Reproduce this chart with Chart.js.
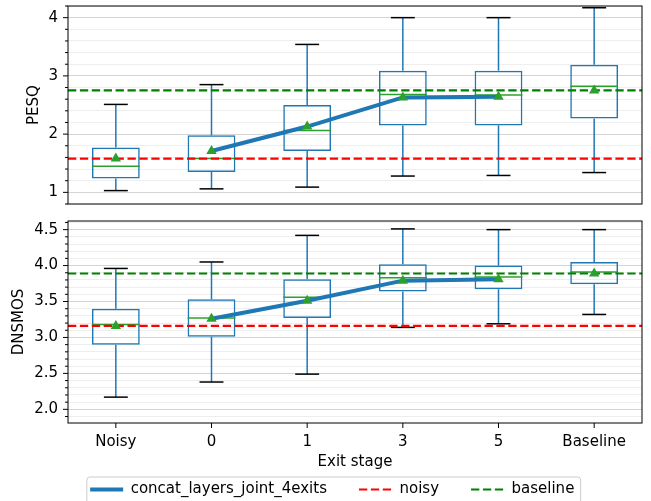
<!DOCTYPE html>
<html>
<head>
<meta charset="utf-8">
<script src="https://cdn.jsdelivr.net/npm/chart.js@4.4.1/dist/chart.umd.min.js"></script>
<style>
  html, body { margin: 0; padding: 0; background: #fff; }
  body { width: 651px; height: 501px; overflow: hidden; position: relative; }
  .panel { position: absolute; left: 0; }
</style>
</head>
<body>
<div class="panel" style="top:0"><canvas id="pesq-canvas" width="651" height="210"></canvas></div>
<div class="panel" style="top:210px"><canvas id="dnsmos-canvas" width="651" height="297"></canvas></div>
<script>
// 退出阶段
const stages = ['Noisy', '0', '1', '3', '5', 'Baseline'];

// PESQ 箱线图数据
const pesqLow    = [1.03, 1.06, 1.09, 1.28, 1.29, 1.34];
const pesqQ1     = [1.24, 1.35, 1.71, 2.15, 2.15, 2.27];
const pesqMedian = [1.45, 1.58, 2.06, 2.68, 2.67, 2.82];
const pesqQ3     = [1.77, 1.98, 2.50, 3.09, 3.09, 3.19];
const pesqHigh   = [2.51, 2.85, 3.54, 4.00, 4.00, 4.17];
const pesqMean   = [1.58, 1.71, 2.13, 2.63, 2.64, 2.75];
const pesqTickLabels = ['1', '2', '3', '4'];

// DNSMOS 箱线图数据
const dnsLow    = [2.17, 2.38, 2.49, 3.14, 3.19, 3.32];
const dnsQ1     = [2.90, 3.01, 3.27, 3.64, 3.67, 3.74];
const dnsMedian = [3.18, 3.27, 3.56, 3.83, 3.84, 3.91];
const dnsQ3     = [3.40, 3.53, 3.81, 4.02, 4.00, 4.05];
const dnsHigh   = [3.96, 4.05, 4.42, 4.51, 4.50, 4.50];
const dnsMean   = [3.16, 3.26, 3.51, 3.79, 3.81, 3.89];
const dnsTickLabels = ['2.0', '2.5', '3.0', '3.5', '4.0', '4.5'];

// 图例
const legendNames = ['concat_layers_joint_4exits', 'noisy', 'baseline'];

Chart.defaults.font.family = "'DejaVu Sans', sans-serif";
Chart.defaults.font.size = 15;
Chart.defaults.color = '#000';

const BLUE = '#1f77b4';
const GREEN = '#2ca02c';
const DASH = [8.3, 3.6];

function isMajor(labels, v) {
    return labels.some(l => Math.abs(parseFloat(l) - v) < 1e-6);
}

function seg(ctx, x1, y1, x2, y2) {
    ctx.beginPath();
    ctx.moveTo(x1, y1);
    ctx.lineTo(x2, y2);
    ctx.stroke();
}

// 须线、端帽、中位数和参考线（画在箱体之后、均值之前）
function makeBoxPlugin(s) {
    return {
        id: 'boxExtras',
        afterDatasetDraw(chart, args) {
            if (args.index !== 0) return;
            const { ctx, chartArea: a } = chart;
            const x = chart.scales.x, y = chart.scales.y;
            const band = x.getPixelForValue(1) - x.getPixelForValue(0);
            ctx.save();
            ctx.lineWidth = 1.5;
            s.low.forEach((lo, i) => {
                const cx = x.getPixelForValue(i);
                ctx.strokeStyle = BLUE;
                seg(ctx, cx, y.getPixelForValue(s.q1[i]), cx, y.getPixelForValue(lo));
                seg(ctx, cx, y.getPixelForValue(s.q3[i]), cx, y.getPixelForValue(s.high[i]));
                ctx.strokeStyle = '#000';
                seg(ctx, cx - band / 8, y.getPixelForValue(lo), cx + band / 8, y.getPixelForValue(lo));
                seg(ctx, cx - band / 8, y.getPixelForValue(s.high[i]), cx + band / 8, y.getPixelForValue(s.high[i]));
                ctx.strokeStyle = GREEN;
                seg(ctx, cx - band / 4, y.getPixelForValue(s.median[i]), cx + band / 4, y.getPixelForValue(s.median[i]));
            });
            ctx.lineWidth = 2.2;
            ctx.setLineDash(DASH);
            const noisyY = y.getPixelForValue(s.mean[0]);
            const baseY = y.getPixelForValue(s.mean[s.mean.length - 1]);
            ctx.strokeStyle = '#ff0000';
            seg(ctx, a.left, noisyY, a.right, noisyY);
            ctx.strokeStyle = '#008000';
            seg(ctx, a.left, baseY, a.right, baseY);
            ctx.restore();
        }
    };
}

// 边框、刻度线和图例边框
function makeFramePlugin(tickLabels, showX) {
    return {
        id: 'frame',
        afterDraw(chart) {
            const { ctx, chartArea: a } = chart;
            const x = chart.scales.x, y = chart.scales.y;
            ctx.save();
            ctx.strokeStyle = '#000';
            ctx.lineWidth = 1;
            y.ticks.forEach(t => {
                const py = y.getPixelForValue(t.value);
                const len = isMajor(tickLabels, t.value) ? 5 : 3;
                seg(ctx, a.left - len, py, a.left, py);
            });
            if (showX) {
                stages.forEach((s, i) => {
                    const px = x.getPixelForValue(i);
                    seg(ctx, px, a.bottom, px, a.bottom + 5);
                });
            }
            ctx.strokeRect(a.left, a.top, a.right - a.left, a.bottom - a.top);

            const lg = chart.legend;
            if (lg && lg.options.display && lg.legendHitBoxes.length) {
                const hb = lg.legendHitBoxes;
                const first = hb[0], last = hb[hb.length - 1];
                const cy = first.top + first.height / 2;
                ctx.strokeStyle = '#cccccc';
                ctx.beginPath();
                ctx.roundRect(first.left - 3.3, cy - 12.5, last.left + last.width + 6.3 - (first.left - 3.3), 27, 3);
                ctx.stroke();
            }
            ctx.restore();
        }
    };
}

function buildChart(canvasId, s) {
    const tickLabels = s.tickLabels;
    return new Chart(document.getElementById(canvasId), {
        type: 'bar',
        data: {
            labels: stages,
            datasets: [
                {
                    label: 'box',
                    data: s.q1.map((q, i) => [q, s.q3[i]]),
                    backgroundColor: 'rgba(0,0,0,0)',
                    borderColor: BLUE,
                    borderWidth: 1.5,
                    borderSkipped: false,
                    barPercentage: 0.5,
                    categoryPercentage: 1,
                    order: 3
                },
                {
                    type: 'line',
                    label: legendNames[0],
                    data: s.mean.map((v, i) => (i === 0 || i === stages.length - 1) ? null : v),
                    borderColor: BLUE,
                    borderWidth: 4,
                    pointRadius: 0,
                    fill: false,
                    order: 2
                },
                {
                    type: 'line',
                    label: 'mean',
                    data: s.mean,
                    showLine: false,
                    pointStyle: 'triangle',
                    pointRadius: 6,
                    pointBackgroundColor: GREEN,
                    pointBorderColor: GREEN,
                    pointBorderWidth: 0,
                    order: 1
                }
            ]
        },
        options: {
            responsive: false,
            animation: false,
            events: [],
            devicePixelRatio: 1,
            layout: { padding: s.padding },
            plugins: {
                tooltip: { enabled: false },
                legend: s.showX ? {
                    display: true,
                    position: 'bottom',
                    align: 'center',
                    labels: {
                        usePointStyle: true,
                        pointStyleWidth: 33,
                        padding: 32,
                        color: '#000',
                        font: { size: 15 },
                        generateLabels: () => [
                            { text: legendNames[0], strokeStyle: BLUE, fillStyle: BLUE, lineWidth: 4, lineDash: [], pointStyle: 'line', hidden: false },
                            { text: legendNames[1], strokeStyle: '#ff0000', fillStyle: '#ff0000', lineWidth: 2.2, lineDash: DASH, pointStyle: 'line', hidden: false },
                            { text: legendNames[2], strokeStyle: '#008000', fillStyle: '#008000', lineWidth: 2.2, lineDash: DASH, pointStyle: 'line', hidden: false }
                        ]
                    }
                } : { display: false }
            },
            scales: {
                x: {
                    display: s.showX,
                    offset: true,
                    grid: { offset: false, drawOnChartArea: false, drawTicks: false },
                    border: { display: false },
                    ticks: { padding: 10, color: '#000' },
                    title: { display: true, text: 'Exit stage', color: '#000', padding: { top: 0, bottom: -20.7 } },
                    afterFit: sc => {
                        sc.height = s.showX ? 27 : 0;
                        sc.paddingLeft = 0;
                        sc.paddingRight = 0;
                    }
                },
                y: {
                    min: s.range[0],
                    max: s.range[1],
                    ticks: {
                        stepSize: s.step,
                        autoSkip: false,
                        includeBounds: false,
                        padding: 10,
                        color: '#000',
                        callback: v => {
                            const l = tickLabels.find(t => Math.abs(parseFloat(t) - v) < 1e-6);
                            return l === undefined ? '' : l;
                        }
                    },
                    grid: {
                        drawTicks: false,
                        color: c => (c.tick && isMajor(tickLabels, c.tick.value)) ? '#d4d4d4' : '#ececec',
                        lineWidth: c => (c.tick && isMajor(tickLabels, c.tick.value)) ? 1.1 : 0.9
                    },
                    border: { display: false },
                    title: { display: true, text: s.title, color: '#000', padding: { top: s.titlePad, bottom: 0 } },
                    afterFit: sc => { sc.width = s.yWidth; sc.paddingTop = 0; sc.paddingBottom = 0; }
                }
            }
        },
        plugins: [makeBoxPlugin(s), makeFramePlugin(tickLabels, s.showX)]
    });
}

buildChart('pesq-canvas', {
    low: pesqLow, q1: pesqQ1, median: pesqMedian, q3: pesqQ3, high: pesqHigh, mean: pesqMean,
    tickLabels: pesqTickLabels, range: [0.8, 4.2], step: 0.2, title: 'PESQ',
    showX: false, padding: { left: 0, right: 9, top: 3, bottom: 5 }, yWidth: 68, titlePad: 25.5
});

buildChart('dnsmos-canvas', {
    low: dnsLow, q1: dnsQ1, median: dnsMedian, q3: dnsQ3, high: dnsHigh, mean: dnsMean,
    tickLabels: dnsTickLabels, range: [1.81, 4.62], step: 0.1, title: 'DNSMOS',
    showX: true, padding: { left: 22.5, right: 9, top: 11, bottom: 0 }, yWidth: 45.5, titlePad: -12
});
</script>
</body>
</html>
